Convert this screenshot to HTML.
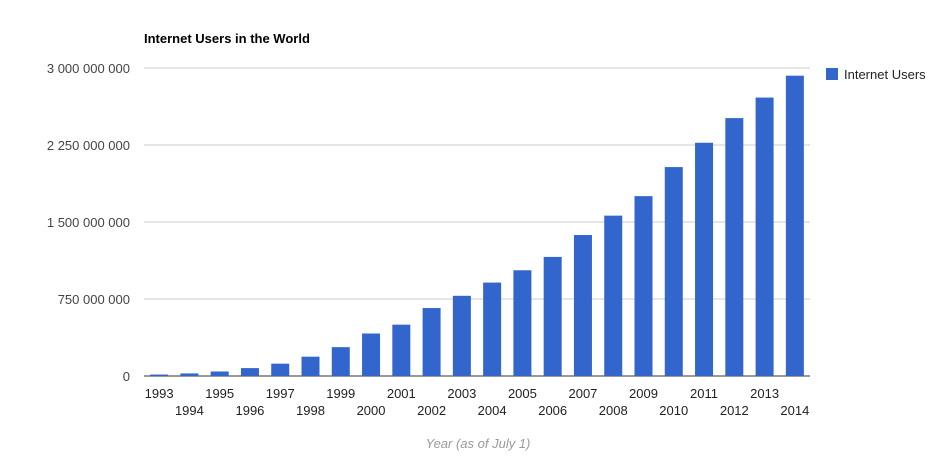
<!DOCTYPE html>
<html><head><meta charset="utf-8"><style>
body{margin:0;background:#fff;font-family:"Liberation Sans",Arial,sans-serif}
</style></head><body>
<svg width="949" height="459" id="c" style="display:block">
<text x="144" y="43" font-size="13" font-weight="bold" fill="#000">Internet Users in the World</text>
<g id="grid"></g><g id="bars"></g><g id="xl"></g>
<rect x="826" y="68" width="12" height="12" fill="#3366cc"/>
<text x="844" y="79" font-size="13" fill="#222">Internet Users</text>
<text x="478" y="448" font-size="13" font-style="italic" fill="#999" text-anchor="middle">Year (as of July 1)</text>
</svg>
<script>
const years=["1993","1994","1995","1996","1997","1998","1999","2000","2001","2002","2003","2004","2005","2006","2007","2008","2009","2010","2011","2012","2013","2014"];
const users=[14e6,25e6,44e6,77e6,120e6,188e6,281e6,414e6,500e6,662e6,781e6,910e6,1030e6,1160e6,1373e6,1562e6,1752e6,2035e6,2272e6,2512e6,2712e6,2925e6];
const ticks=[0,750e6,1500e6,2250e6,3000e6];
const tickLabels=["0","750 000 000","1 500 000 000","2 250 000 000","3 000 000 000"];
const NS="http://www.w3.org/2000/svg";
const y0=376,y1=68,yMax=3e9,x0=144,x1=810;
const Y=v=>y0-(v/yMax)*(y0-y1);
const step=(x1-x0)/years.length;
const X=i=>x0+step*i+step/2;
function mk(t,a,p){const e=document.createElementNS(NS,t);for(const k in a)e.setAttribute(k,a[k]);p.appendChild(e);return e;}
const grid=document.getElementById('grid'),bars=document.getElementById('bars'),xl=document.getElementById('xl');
ticks.forEach((t,i)=>{
  const l=mk('line',{x1:x0,x2:x1,y1:Y(t),y2:Y(t),stroke:i==0?'#333':'#ccc','stroke-width':1},grid);
  
  
  const tx=mk('text',{x:130,y:Y(t)+5,'font-size':13,fill:'#444','text-anchor':'end'},grid);
  tx.textContent=tickLabels[i];
  
  
});
users.forEach((v,i)=>{
  const r=mk('rect',{x:X(i)-9,y:Y(v),width:18,height:y0-Y(v),fill:'#3366cc'},bars);
  
  
  const t=mk('text',{x:X(i),y:i%2?415:398,'font-size':13,fill:'#222','text-anchor':'middle'},xl);
  t.textContent=years[i];
  
  
});
</script>
</body></html>
